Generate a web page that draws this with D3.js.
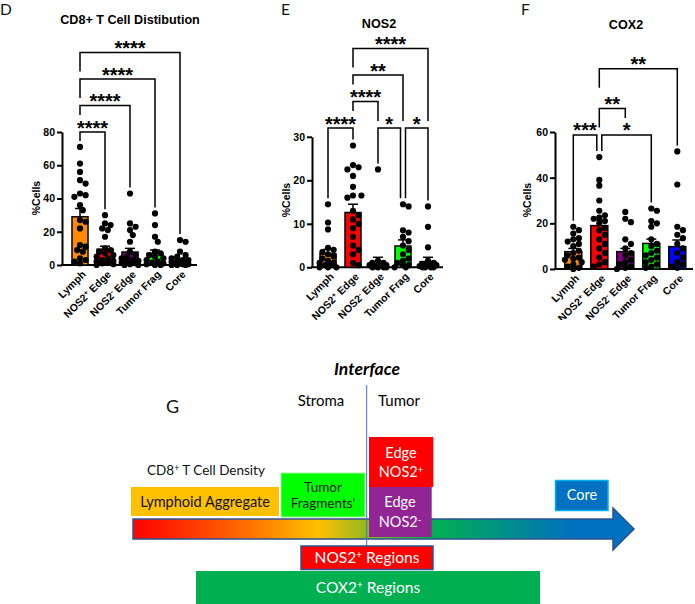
<!DOCTYPE html>
<html><head><meta charset="utf-8">
<script src="https://cdn.jsdelivr.net/npm/d3@7"></script>
<style>
body{margin:0;background:#fff;}
svg{display:block;}
</style></head><body>
<svg id="chart" width="695" height="604"></svg>
<script>
// ---------------- DATA ----------------
const categories = ["Lymph", "NOS2⁺ Edge", "NOS2⁻ Edge", "Tumor Frag", "Core"];
const barColors = ["#FF8C00", "#FF0000", "#800080", "#00FF00", "#0000FF"];

// Panel D: CD8+ T cell distribution (%Cells)
const cd8Mean = [29, 9.5, 7.8, 7, 2.8];
const cd8Sem  = [5, 1.8, 2.2, 2, 1];
const cd8Points = [
  [71, 61, 56, 51, 49, 43, 42, 41, 36, 33, 27, 26, 22, 12, 11, 9, 8, 4, 3, 2, 1],
  [30, 25, 24, 22, 21, 17, 10, 9, 8, 7, 6, 5, 4, 3, 2.5, 2, 1.5, 1, 0.5, 0],
  [43, 25, 23, 21, 18, 14, 8, 6, 5, 4, 3, 2.5, 2, 1.5, 1, 0.5, 0, 0],
  [31, 24, 17, 14, 8, 7, 6, 5, 4, 3, 2, 1.5, 1, 0.5, 0, 0],
  [15, 14, 8, 6, 5, 4, 3, 3, 2, 2, 1.5, 1, 1, 0.5, 0.5, 0, 0, 0]
];
const cd8Comparisons = [
  {a: 0, b: 1, level: 1, label: "****"},
  {a: 0, b: 2, level: 2, label: "****"},
  {a: 0, b: 3, level: 3, label: "****"},
  {a: 0, b: 4, level: 4, label: "****"}
];

// Panel E: NOS2 (%Cells)
const nos2Mean = [3.1, 12.6, 0.7, 4.9, 1.3];
const nos2Sem  = [1.0, 1.9, 1.6, 1.4, 1.0];
const nos2Points = [
  [14.5, 10.3, 8.7, 4.5, 4, 3.5, 3, 2.5, 2, 1.5, 1, 1, 0.5, 0.5, 0, 0, 0],
  [28, 23.5, 23, 22.5, 21, 18.5, 16.5, 16.5, 16, 13, 12, 11, 10, 9, 7, 5, 4, 3, 1, 0.5],
  [22.5, 1.5, 1, 1, 0.5, 0.5, 0.5, 0.3, 0.2, 0, 0, 0, 0],
  [14.5, 14, 8.5, 8, 7, 6, 5, 4, 3, 2, 1.5, 1, 0.5, 0.5, 0, 0],
  [14, 9.3, 4.6, 1.5, 1, 0.8, 0.5, 0.5, 0.3, 0, 0, 0, 0]
];
const nos2Comparisons = [
  {a: 0, b: 1, level: 1, label: "****"},
  {a: 2, b: 3, level: 1, label: "*"},
  {a: 3, b: 4, level: 1, label: "*"},
  {a: 1, b: 2, level: 2, label: "****"},
  {a: 1, b: 3, level: 3, label: "**"},
  {a: 1, b: 4, level: 4, label: "****"}
];

// Panel F: COX2 (%Cells)
const cox2Mean = [7.6, 19, 7.6, 11.2, 9.8];
const cox2Sem  = [1.4, 2.4, 1.4, 1.9, 2.9];
const cox2Points = [
  [18.5, 17, 15.5, 13.5, 13, 12, 11, 10, 8, 7, 6, 5, 4.5, 4, 3, 2, 1, 0.5, 0],
  [49, 39, 36.5, 30, 25.5, 23.5, 22.5, 22, 21, 20, 18, 17, 15, 13, 11, 9, 7, 5, 3, 2, 1],
  [25, 22, 20.5, 13, 11, 9, 7, 6, 4, 3, 2, 1, 0.5, 0],
  [26.5, 25.5, 21, 20, 18.5, 13, 11, 10, 8, 7, 6, 5, 4, 3, 2, 1, 0.5],
  [51.5, 37, 18.5, 17, 15, 13.5, 11, 9, 7, 5, 3, 2, 1, 0.5]
];
const cox2Comparisons = [
  {a: 0, b: 1, level: 1, label: "***"},
  {a: 1, b: 3, level: 1, label: "*"},
  {a: 1, b: 2, level: 2, label: "**"},
  {a: 1, b: 4, level: 3.5, label: "**"}
];

const panelTitles = ["CD8+ T Cell Distibution", "NOS2", "COX2"];
const panelLetters = ["D", "E", "F"];
const yTicksD = [0, 20, 40, 60, 80];
const yTicksE = [0, 10, 20, 30];
const yTicksF = [0, 20, 40, 60];

// ---------------- LAYOUT ----------------
const svg = d3.select("#chart");
const defs = svg.append("defs");
defs.append("clipPath").attr("id", "topclip").append("rect")
  .attr("x", 0).attr("y", 0).attr("width", 695).attr("height", 320);

const topG = svg.append("g").attr("clip-path", "url(#topclip)");
const ARIAL = "'Liberation Sans', Arial, sans-serif";
const CAL = "Lato, 'Open Sans', sans-serif";

function richText(sel, str, supScale) {
  sel.text(null);
  const parts = str.split(/([⁺⁻])/);
  let sup = false;
  parts.forEach(p => {
    if (p === "") return;
    if (p === "⁺" || p === "⁻") {
      sel.append("tspan").attr("font-size", supScale + "em").attr("dy", "-0.45em")
        .text(p === "⁺" ? "+" : "-");
      sup = true;
    } else {
      const t = sel.append("tspan").text(p);
      if (sup) { t.attr("dy", "0.32em"); sup = false; }
    }
  });
}

const panels = [
  {letter: panelLetters[0], title: panelTitles[0], mean: cd8Mean, sem: cd8Sem, pts: cd8Points, comps: cd8Comparisons, ticks: yTicksD,
   axisX: 62, y0: 265, yTop: 132, yMax: 80, cx0: 80, step: 25, bw: 16, xEnd: 197, ylabX: 39.5, ylabY: 198, titleX: 130, titleY: 24, letterX: 0, bracketBase: 80},
  {letter: panelLetters[1], title: panelTitles[1], mean: nos2Mean, sem: nos2Sem, pts: nos2Points, comps: nos2Comparisons, ticks: yTicksE,
   axisX: 312, y0: 267.3, yTop: 136.8, yMax: 30, cx0: 328, step: 25, bw: 16, xEnd: 443, ylabX: 289.5, ylabY: 200, titleX: 379, titleY: 28, letterX: 281, bracketBase: 32},
  {letter: panelLetters[2], title: panelTitles[2], mean: cox2Mean, sem: cox2Sem, pts: cox2Points, comps: cox2Comparisons, ticks: yTicksF,
   axisX: 555, y0: 269, yTop: 132, yMax: 60, cx0: 573.3, step: 26, bw: 17, xEnd: 693, ylabX: 531, ylabY: 200, titleX: 626, titleY: 29, letterX: 521, bracketBase: 58.7}
];

function swarm(vals, y, cx, r, maxOff) {
  const placed = [];
  const order = vals.map((v, i) => ({v, i})).sort((a, b) => b.v - a.v);
  const minD = 2 * r * 0.92;
  const cands = [0];
  for (let k = 1; k * 2.8 <= maxOff; k++) { cands.push(k * 2.8, -k * 2.8); }
  order.forEach(p => {
    const py = y(p.v);
    let best = null, bestScore = -Infinity;
    for (const o of cands) {
      const px = cx + o;
      let md = Infinity;
      placed.forEach(q => { md = Math.min(md, Math.hypot(q.x - px, q.y - py)); });
      if (md >= minD) { best = px; break; }
      if (md > bestScore) { bestScore = md; best = px; }
    }
    placed.push({x: best, y: py});
  });
  return placed;
}

const LEVEL_GAP = 26.5;
const STAR_SIZE = 20;

panels.forEach(P => {
  const g = topG.append("g");
  const y = d3.scaleLinear().domain([0, P.yMax]).range([P.y0, P.yTop]);
  const x = d3.scalePoint().domain(categories).range([P.cx0, P.cx0 + 4 * P.step]);

  // letter + title
  svg.append("text").attr("x", P.letterX).attr("y", 14.5).attr("font-family", CAL)
    .attr("font-size", 15.5).attr("fill", "#111").text(P.letter);
  g.append("text").attr("x", P.titleX).attr("y", P.titleY).attr("text-anchor", "middle")
    .attr("font-family", ARIAL).attr("font-weight", "bold").attr("font-size", 12.6).text(P.title);

  // y axis
  const ya = g.append("g").attr("transform", `translate(${P.axisX},0)`)
    .call(d3.axisLeft(y).tickValues(P.ticks).tickSize(5).tickSizeOuter(0).tickPadding(2));
  ya.select(".domain").attr("stroke-width", 2).attr("stroke", "#000");
  ya.selectAll(".tick line").attr("stroke-width", 2).attr("stroke", "#000");
  ya.selectAll(".tick text").attr("font-family", ARIAL).attr("font-weight", "bold")
    .attr("font-size", 10.5).attr("fill", "#000");
  g.append("text").attr("transform", `translate(${P.ylabX},${P.ylabY}) rotate(-90)`)
    .attr("text-anchor", "middle").attr("font-family", ARIAL).attr("font-weight", "bold")
    .attr("font-size", 10.5).text("%Cells");

  // x axis
  const xa = g.append("g").attr("transform", `translate(0,${P.y0})`)
    .call(d3.axisBottom(x).tickSize(0).tickPadding(0));
  xa.select(".domain").remove();
  xa.selectAll(".tick text")
    .attr("font-family", ARIAL).attr("font-weight", "bold").attr("font-size", 10.5).attr("fill", "#000")
    .attr("text-anchor", "end").attr("dy", 0).attr("y", 0)
    .attr("transform", "translate(6,10) rotate(-45)")
    .each(function(d) { richText(d3.select(this), d, 0.7); });
  g.append("line").attr("x1", P.axisX - 1).attr("x2", P.xEnd).attr("y1", P.y0).attr("y2", P.y0)
    .attr("stroke", "#000").attr("stroke-width", 2);

  // bars
  g.selectAll("rect.bar").data(categories).join("rect")
    .attr("x", d => x(d) - P.bw / 2).attr("width", P.bw)
    .attr("y", (d, i) => y(P.mean[i])).attr("height", (d, i) => P.y0 - y(P.mean[i]))
    .attr("fill", (d, i) => barColors[i]).attr("stroke", "#000").attr("stroke-width", 1.5);

  // dots
  categories.forEach((c, i) => {
    const pos = swarm(P.pts[i], y, x(c), 3.1, 11);
    g.append("g").selectAll("circle").data(pos).join("circle")
      .attr("cx", d => d.x).attr("cy", d => d.y).attr("r", 3.1).attr("fill", "#000");
  });

  // error bars
  categories.forEach((c, i) => {
    const cx = x(c), yt = y(P.mean[i] + P.sem[i]);
    g.append("line").attr("x1", cx).attr("x2", cx).attr("y1", y(P.mean[i])).attr("y2", yt)
      .attr("stroke", "#000").attr("stroke-width", 1.5);
    g.append("line").attr("x1", cx - 5).attr("x2", cx + 5).attr("y1", yt).attr("y2", yt)
      .attr("stroke", "#000").attr("stroke-width", 1.5);
  });

  // brackets
  const baseY = y(P.bracketBase);
  const cy = L => baseY - (L - 1) * LEVEL_GAP;
  const labW = s => s.length * 0.389 * STAR_SIZE;
  const maxY = gi => y(d3.max(P.pts[gi])) - 6;
  const ends = P.comps.map(c => {
    let xa_ = x(categories[c.a]), xb_ = x(categories[c.b]);
    P.comps.forEach(o => {
      if (o === c || o.level !== c.level) return;
      if (o.a === c.a || o.b === c.a) xa_ += 2.5;
      if (o.a === c.b || o.b === c.b) xb_ -= 2.5;
    });
    return [xa_, xb_];
  });
  function legBottom(ci, gi, xLeg, isLeft) {
    const c = P.comps[ci], by = cy(c.level);
    if (c.level === 1) return maxY(gi);
    let obs = Infinity;
    P.comps.forEach((o, oi) => {
      if (o.level >= c.level) return;
      if (gi < o.a || gi > o.b) return;
      const oy = cy(o.level);
      const lc = (ends[oi][0] + ends[oi][1]) / 2;
      const covered = Math.abs(lc - xLeg) < labW(o.label) / 2 + 2;
      obs = Math.min(obs, covered ? oy - 17 : oy - 7);
    });
    if (obs === Infinity) obs = maxY(gi);
    if (isLeft) obs = Math.min(obs, by + 19);
    return obs;
  }
  P.comps.forEach((c, ci) => {
    const by = cy(c.level);
    const [x1, x2] = ends[ci];
    const l1 = legBottom(ci, c.a, x1, true), l2 = legBottom(ci, c.b, x2, false);
    g.append("path").attr("d", `M${x1},${l1}V${by}H${x2}V${l2}`)
      .attr("fill", "none").attr("stroke", "#000").attr("stroke-width", 1.5);
    g.append("text").attr("x", (x1 + x2) / 2).attr("y", by + 2.5).attr("text-anchor", "middle")
      .attr("font-family", ARIAL).attr("font-weight", "bold").attr("font-size", STAR_SIZE).text(c.label);
  });
});

// ---------------- DIAGRAM G ----------------
const diagramLabels = {
  letter: "G", interface: "Interface", stroma: "Stroma", tumor: "Tumor",
  density: "CD8⁺ T Cell Density", lymphoid: "Lymphoid Aggregate", fragments: ["Tumor", "Fragments'"],
  edgePos: ["Edge", "NOS2⁺"], edgeNeg: ["Edge", "NOS2⁻"], core: "Core",
  nos2Regions: "NOS2⁺ Regions", cox2Regions: "COX2⁺ Regions"
};
const gradStops = [
  {offset: 0, color: "#FF0000"},
  {offset: 0.2, color: "#FF6000"},
  {offset: 0.37, color: "#FFC000"},
  {offset: 0.6, color: "#00B050"},
  {offset: 0.88, color: "#0070C0"},
  {offset: 1, color: "#0070C0"}
];

const G = svg.append("g");
const grad = defs.append("linearGradient").attr("id", "arrowgrad")
  .attr("gradientUnits", "userSpaceOnUse").attr("x1", 133).attr("x2", 634).attr("y1", 0).attr("y2", 0);
grad.selectAll("stop").data(gradStops).join("stop")
  .attr("offset", d => d.offset).attr("stop-color", d => d.color);

G.append("text").attr("x", 166).attr("y", 413).attr("font-family", CAL).attr("font-size", 18).attr("fill", "#111")
  .text(diagramLabels.letter);
G.append("text").attr("x", 367).attr("y", 375).attr("text-anchor", "middle").attr("font-family", CAL)
  .attr("font-weight", "bold").attr("font-style", "italic").attr("font-size", 17.5).text(diagramLabels.interface);
G.append("text").attr("x", 321).attr("y", 405.5).attr("text-anchor", "middle").attr("font-family", CAL)
  .attr("font-size", 15).text(diagramLabels.stroma);
G.append("text").attr("x", 399).attr("y", 405.5).attr("text-anchor", "middle").attr("font-family", CAL)
  .attr("font-size", 15).text(diagramLabels.tumor);

// arrow
G.append("path").attr("d", "M133,519H613V508L634,529L613,550V539H133Z")
  .attr("fill", "url(#arrowgrad)").attr("stroke", "#2F528F").attr("stroke-width", 1.5);

// interface line
G.append("line").attr("x1", 366.7).attr("x2", 366.7).attr("y1", 385).attr("y2", 546)
  .attr("stroke", "#4472C4").attr("stroke-width", 1);

function box(x0, y0, w, h, fill, stroke, sw) {
  G.append("rect").attr("x", x0).attr("y", y0).attr("width", w).attr("height", h)
    .attr("fill", fill).attr("stroke", stroke).attr("stroke-width", sw);
}
function label(xc, yb, str, color, size) {
  const t = G.append("text").attr("x", xc).attr("y", yb).attr("text-anchor", "middle")
    .attr("font-family", CAL).attr("font-size", size).attr("fill", color);
  richText(t, str, 0.65);
}

// CD8 density text
const dt = G.append("text").attr("x", 147).attr("y", 475).attr("font-family", CAL).attr("font-size", 13.5).attr("fill", "#111");
richText(dt, diagramLabels.density, 0.65);

box(131, 487, 148, 29, "#FFC000", "none", 0);
label(205, 506.5, diagramLabels.lymphoid, "#111", 14.5);

box(281, 473, 84, 44, "#00FF00", "#9EF59E", 1);
label(323, 492, diagramLabels.fragments[0], "#222", 13.5);
label(323, 508, diagramLabels.fragments[1], "#222", 13.5);

box(369, 437, 64.3, 50, "#FF0000", "none", 0);
label(401, 458, diagramLabels.edgePos[0], "#fff", 14.5);
label(401, 477, diagramLabels.edgePos[1], "#fff", 14.5);

box(369, 487, 62.7, 50, "#912594", "none", 0);
label(400, 507, diagramLabels.edgeNeg[0], "#fff", 14.5);
label(400, 527, diagramLabels.edgeNeg[1], "#fff", 14.5);

box(555.5, 480.5, 52.5, 30, "#0070C0", "#00B0F0", 1.5);
label(582, 500, diagramLabels.core, "#fff", 14.5);

box(301, 546, 132, 23.5, "#FF0000", "#2F528F", 1.5);
label(367, 563, diagramLabels.nos2Regions, "#fff", 15.5);

box(196, 571, 344, 34, "#00B050", "none", 0);
label(368, 593, diagramLabels.cox2Regions, "#fff", 15.5);
</script>
</body></html>
